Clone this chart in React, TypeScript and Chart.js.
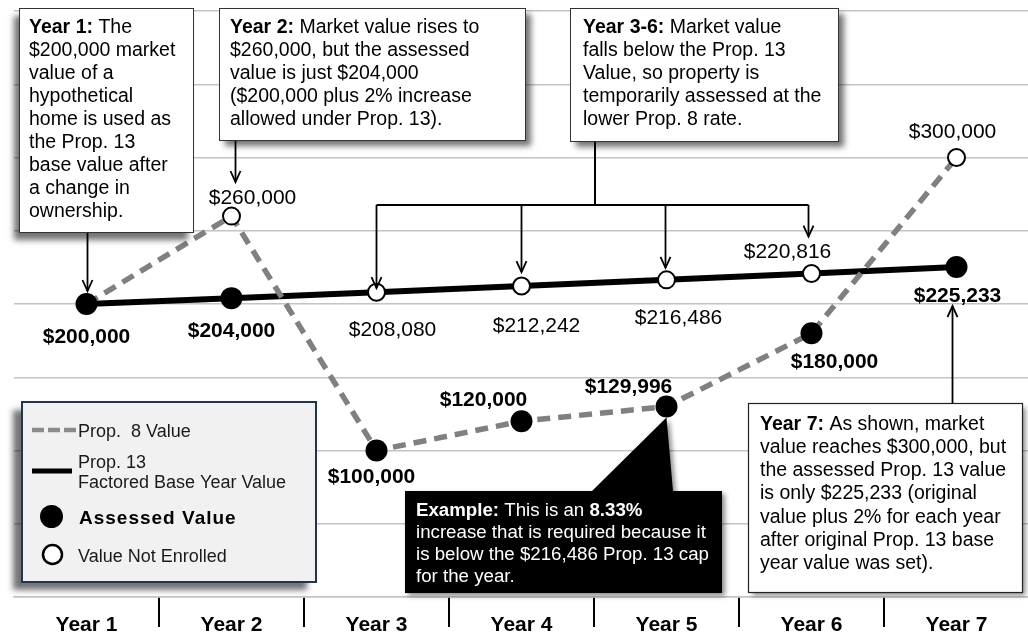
import React, { useEffect, useRef } from 'react';
import { Chart, registerables } from 'chart.js';

Chart.register(...registerables);

const FONT = '"Liberation Sans", Arial, Helvetica, sans-serif';

// ---------- data ----------
const years = ['Year 1', 'Year 2', 'Year 3', 'Year 4', 'Year 5', 'Year 6', 'Year 7'];
const prop8Values = [200000, 260000, 100000, 120000, 129996, 180000, 300000];
const prop13Values = [200000, 204000, 208080, 212242, 216486, 220816, 225233];
const assessedValues = [200000, 204000, 100000, 120000, 129996, 180000, 225233];
const notEnrolledValues: (number | null)[] = [null, 260000, 208080, 212242, 216486, 220816, 300000];
const yMin = 0;
const yMax = 400000;
const yStep = 50000;

// label offsets (pixels from the point) for the value labels
const assessedLabelOffsets: [number, number][] = [[0, 31], [0, 31], [-5, 25], [-38, -23], [-38, -21], [23, 27], [1, 27]];
const notEnrolledLabelOffsets: ([number, number] | null)[] = [null, [21, -20], [16, 36], [15, 38], [12, 37], [-24, -23], [-4, -27]];

type Seg = [string, boolean];
const box1Lines: Seg[][] = [
  [['Year 1:', true], [' The', false]],
  [['$200,000 market', false]],
  [['value of a', false]],
  [['hypothetical', false]],
  [['home is used as', false]],
  [['the Prop. 13', false]],
  [['base value after', false]],
  [['a change in', false]],
  [['ownership.', false]],
];
const box2Lines: Seg[][] = [
  [['Year 2:', true], [' Market value rises to', false]],
  [['$260,000, but the assessed', false]],
  [['value is just $204,000', false]],
  [['($200,000 plus 2% increase', false]],
  [['allowed under Prop. 13).', false]],
];
const box3Lines: Seg[][] = [
  [['Year 3-6:', true], [' Market value', false]],
  [['falls below the Prop. 13', false]],
  [['Value, so property is', false]],
  [['temporarily assessed at the', false]],
  [['lower Prop. 8 rate.', false]],
];
const box7Lines: Seg[][] = [
  [['Year 7:', true], [' As shown, market', false]],
  [['value reaches $300,000, but', false]],
  [['the assessed Prop. 13 value', false]],
  [['is only $225,233 (original', false]],
  [['value plus 2% for each year', false]],
  [['after original Prop. 13 base', false]],
  [['year value was set).', false]],
];
const exampleLines: Seg[][] = [
  [['Example:', true], [' This is an ', false], ['8.33%', true]],
  [['increase that is required because it', false]],
  [['is below the $216,486 Prop. 13 cap', false]],
  [['for the year.', false]],
];
const legendLabels = ['Prop.  8 Value', 'Prop. 13', 'Factored Base Year Value', 'Assessed Value', 'Value Not Enrolled'];

const fmt = (v: number) => '$' + v.toLocaleString('en-US');

// ---------- drawing helpers ----------
function drawRich(ctx: CanvasRenderingContext2D, segs: Seg[], x: number, y: number, size: number, color: string) {
  let cx = x;
  ctx.fillStyle = color;
  ctx.textAlign = 'left';
  ctx.textBaseline = 'alphabetic';
  for (const [t, bold] of segs) {
    ctx.font = `${bold ? 'bold ' : ''}${size}px ${FONT}`;
    ctx.fillText(t, cx, y);
    cx += ctx.measureText(t).width;
  }
}

function drawLines(ctx: CanvasRenderingContext2D, lines: Seg[][], x: number, y0: number, lh: number, size: number, color: string) {
  lines.forEach((segs, i) => drawRich(ctx, segs, x, y0 + i * lh, size, color));
}

function drawBox(
  ctx: CanvasRenderingContext2D,
  x: number, y: number, w: number, h: number,
  fill: string, stroke: string | null, lw: number,
  sdx: number, sdy: number, blur: number, scolor: string,
) {
  ctx.save();
  ctx.shadowColor = scolor;
  ctx.shadowOffsetX = sdx;
  ctx.shadowOffsetY = sdy;
  ctx.shadowBlur = blur;
  ctx.fillStyle = fill;
  ctx.fillRect(x, y, w, h);
  ctx.restore();
  if (stroke) {
    ctx.save();
    ctx.strokeStyle = stroke;
    ctx.lineWidth = lw;
    ctx.strokeRect(x, y, w, h);
    ctx.restore();
  }
}

function line(ctx: CanvasRenderingContext2D, x1: number, y1: number, x2: number, y2: number) {
  ctx.beginPath();
  ctx.moveTo(x1, y1);
  ctx.lineTo(x2, y2);
  ctx.stroke();
}

function arrowV(ctx: CanvasRenderingContext2D, x: number, yFrom: number, yTip: number) {
  const dir = yTip > yFrom ? 1 : -1;
  line(ctx, x, yFrom, x, yTip);
  ctx.beginPath();
  ctx.moveTo(x - 5, yTip - dir * 11);
  ctx.lineTo(x, yTip);
  ctx.lineTo(x + 5, yTip - dir * 11);
  ctx.stroke();
}

const annotationPlugin = {
  id: 'annotations',
  afterDraw(chart: any) {
    const ctx: CanvasRenderingContext2D = chart.ctx;
    const xs = chart.scales.x;
    const ys = chart.scales.y;
    const px = (i: number) => xs.getPixelForValue(i);
    const py = (v: number) => ys.getPixelForValue(v);

    ctx.save();

    // ---- value labels ----
    ctx.textAlign = 'center';
    ctx.textBaseline = 'alphabetic';
    ctx.fillStyle = '#000';
    ctx.font = `bold 21px ${FONT}`;
    assessedValues.forEach((v, i) => {
      const o = assessedLabelOffsets[i];
      ctx.fillText(fmt(v), px(i) + o[0], py(v) + o[1] + 7.5);
    });
    ctx.font = `21px ${FONT}`;
    notEnrolledValues.forEach((v, i) => {
      const o = notEnrolledLabelOffsets[i];
      if (v == null || !o) return;
      ctx.fillText(fmt(v), px(i) + o[0], py(v) + o[1] + 7.5);
    });

    // ---- box 1 ----
    drawBox(ctx, 19.5, 8.5, 174, 224, '#fff', '#333', 1, -6, 7, 6, 'rgba(0,0,0,0.55)');
    drawLines(ctx, box1Lines, 29, 33, 23, 19.5, '#000');
    ctx.strokeStyle = '#000';
    ctx.lineWidth = 1.8;
    arrowV(ctx, px(0) + 1, 233, py(prop13Values[0]) - 13);

    // ---- box 2 ----
    drawBox(ctx, 219.5, 8.5, 306, 132, '#fff', '#333', 1, 5, 5, 6, 'rgba(0,0,0,0.55)');
    drawLines(ctx, box2Lines, 230, 33, 23, 19.5, '#000');
    ctx.strokeStyle = '#000';
    ctx.lineWidth = 1.8;
    arrowV(ctx, px(1) + 4, 141, 182);

    // ---- box 3 ----
    drawBox(ctx, 570.5, 8.5, 268, 133, '#fff', '#333', 1, 5, 5, 6, 'rgba(0,0,0,0.55)');
    drawLines(ctx, box3Lines, 583, 33, 23, 19.5, '#000');
    ctx.strokeStyle = '#000';
    ctx.lineWidth = 2;
    line(ctx, 595, 142, 595, 205);
    line(ctx, px(2), 205, px(5) - 3, 205);
    ctx.lineWidth = 1.8;
    arrowV(ctx, px(2), 205, py(prop13Values[2]) - 4);
    arrowV(ctx, px(3), 205, py(prop13Values[3]) - 14);
    arrowV(ctx, px(4) - 1, 205, py(prop13Values[4]) - 12);
    arrowV(ctx, px(5) - 3, 205, py(prop13Values[5]) - 37);

    // ---- example box (black callout) ----
    const ax = px(4);
    const ay = py(assessedValues[4]) + 11;
    ctx.save();
    ctx.shadowColor = 'rgba(0,0,0,0.45)';
    ctx.shadowOffsetX = 3;
    ctx.shadowOffsetY = 3;
    ctx.shadowBlur = 5;
    ctx.fillStyle = '#000';
    ctx.beginPath();
    ctx.moveTo(405, 491);
    ctx.lineTo(592, 491);
    ctx.lineTo(ax, ay);
    ctx.lineTo(673, 491);
    ctx.lineTo(722, 491);
    ctx.lineTo(722, 593);
    ctx.lineTo(405, 593);
    ctx.closePath();
    ctx.fill();
    ctx.restore();
    drawLines(ctx, exampleLines, 416, 515.5, 22.2, 18.7, '#fff');

    // ---- year 7 box ----
    drawBox(ctx, 748.5, 403.5, 274, 189, '#fff', '#222', 1.2, 3, 3, 5, 'rgba(0,0,0,0.45)');
    drawLines(ctx, box7Lines, 760, 429.5, 23.3, 19.5, '#000');
    ctx.strokeStyle = '#000';
    ctx.lineWidth = 1.8;
    arrowV(ctx, px(6) - 4, 403, py(prop13Values[6]) + 39);

    // ---- legend ----
    drawBox(ctx, 22, 402, 294, 180, '#f1f1f1', null, 0, -9, 8, 6, 'rgba(0,0,0,0.55)');
    ctx.strokeStyle = '#1f3550';
    ctx.lineWidth = 2;
    ctx.strokeRect(22, 402, 294, 180);

    ctx.save();
    ctx.strokeStyle = '#8a8a8a';
    ctx.lineWidth = 4.5;
    ctx.setLineDash([12, 4]);
    line(ctx, 32, 430, 77, 430);
    ctx.restore();
    ctx.strokeStyle = '#000';
    ctx.lineWidth = 5;
    line(ctx, 32, 471, 72, 471);
    ctx.fillStyle = '#000';
    ctx.beginPath();
    ctx.arc(51.5, 516.5, 11.5, 0, Math.PI * 2);
    ctx.fill();
    ctx.fillStyle = '#fff';
    ctx.strokeStyle = '#000';
    ctx.lineWidth = 2.5;
    ctx.beginPath();
    ctx.arc(52.5, 554.5, 9.5, 0, Math.PI * 2);
    ctx.fill();
    ctx.stroke();

    ctx.fillStyle = '#1a1a1a';
    ctx.textAlign = 'left';
    ctx.textBaseline = 'alphabetic';
    ctx.font = `18px ${FONT}`;
    ctx.fillText(legendLabels[0], 78, 436.5);
    ctx.fillText(legendLabels[1], 78, 467.5);
    ctx.fillText(legendLabels[2], 78, 487.5);
    ctx.fillText(legendLabels[4], 78, 561.5);
    ctx.font = `bold 19px ${FONT}`;
    (ctx as any).letterSpacing = '1px';
    ctx.fillStyle = '#000';
    ctx.fillText(legendLabels[3], 79, 523.5);
    (ctx as any).letterSpacing = '0px';

    ctx.restore();
  },
};

export default function App() {
  const ref = useRef<HTMLCanvasElement | null>(null);

  useEffect(() => {
    if (!ref.current) return;
    const chart = new Chart(ref.current, {
      type: 'line',
      data: {
        labels: years,
        datasets: [
          {
            label: 'Assessed Value',
            data: assessedValues,
            showLine: false,
            pointRadius: 11,
            pointBackgroundColor: '#000',
            pointBorderWidth: 0,
            order: 0,
          },
          {
            label: 'Value Not Enrolled',
            data: notEnrolledValues,
            showLine: false,
            pointRadius: 8.5,
            pointBackgroundColor: '#fff',
            pointBorderColor: '#000',
            pointBorderWidth: 2,
            order: 1,
          },
          {
            label: 'Prop. 8 Value',
            data: prop8Values,
            borderColor: '#808080',
            borderWidth: 5.5,
            borderDash: [13, 8],
            pointRadius: 0,
            fill: false,
            order: 2,
          },
          {
            label: 'Prop. 13 Factored Base Year Value',
            data: prop13Values,
            borderColor: '#000',
            borderWidth: 6,
            pointRadius: 0,
            fill: false,
            order: 3,
          },
        ],
      } as any,
      options: {
        responsive: false,
        animation: false,
        events: [],
        layout: { padding: { left: 14, top: 10, right: 6, bottom: 0 } },
        plugins: { legend: { display: false }, tooltip: { enabled: false } },
        scales: {
          x: {
            type: 'category',
            offset: true,
            grid: {
              offset: true,
              drawOnChartArea: false,
              drawTicks: true,
              tickLength: 30,
              lineWidth: 2,
              color: (c: any) => (c.index === 0 ? 'rgba(0,0,0,0)' : '#000'),
            },
            border: { display: true, color: '#c4c4c4', width: 1.5 },
            ticks: {
              font: { family: FONT, size: 21, weight: 'bold' },
              color: '#000',
              padding: -14,
              maxRotation: 0,
              autoSkip: false,
            },
            afterFit: (s: any) => { s.height = 35; },
          },
          y: {
            min: yMin,
            max: yMax,
            ticks: { display: false, stepSize: yStep },
            grid: { color: '#c4c4c4', lineWidth: 1.5, drawTicks: false },
            border: { display: false },
            afterFit: (s: any) => { s.width = 0; },
          },
        },
      } as any,
      plugins: [annotationPlugin],
    });
    return () => chart.destroy();
  }, []);

  return (
    <div style={{ position: 'fixed', left: 0, top: 0, width: 1028, height: 632, overflow: 'hidden', background: '#fff' }}>
      <canvas ref={ref} width={1040} height={632} style={{ display: 'block', width: 1040, height: 632 }} />
    </div>
  );
}
